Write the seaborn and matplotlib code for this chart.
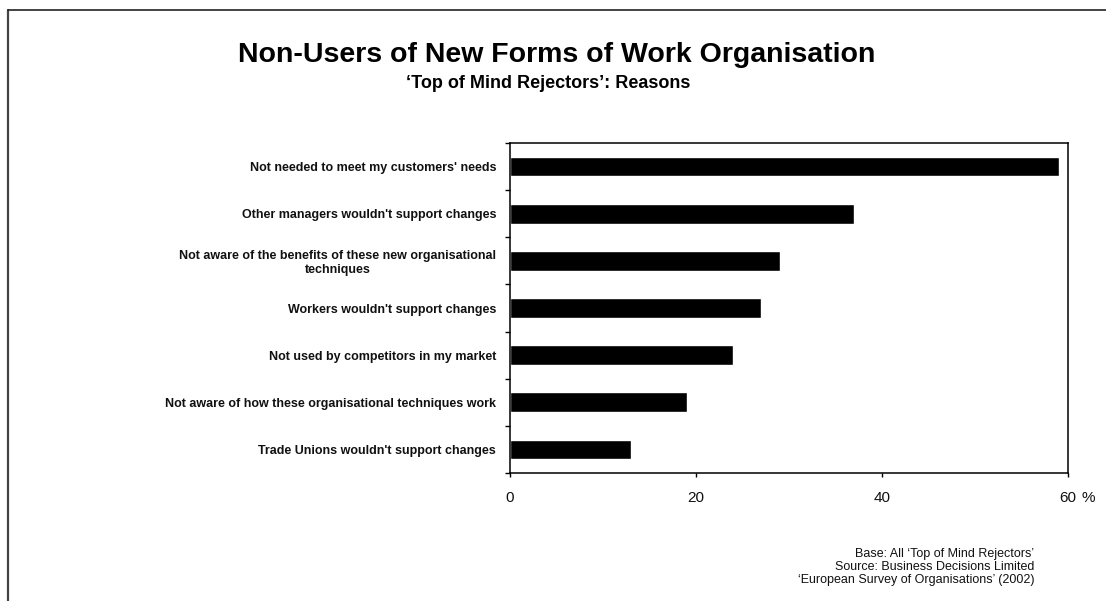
import matplotlib
matplotlib.use("Agg")
import matplotlib.pyplot as plt
from matplotlib.lines import Line2D
import seaborn as sns
import pandas as pd

# Reasons given by 'Top of Mind Rejectors' (% of respondents)
reasons = [
    "Not needed to meet my customers' needs",
    "Other managers wouldn't support changes",
    "Not aware of the benefits of these new organisational\ntechniques",
    "Workers wouldn't support changes",
    "Not used by competitors in my market",
    "Not aware of how these organisational techniques work",
    "Trade Unions wouldn't support changes",
]
shares = [59, 37, 29, 27, 24, 19, 13]
x_ticks = [0, 20, 40, 60]
x_tick_labels = ["0", "20", "40", "60"]

title = "Non-Users of New Forms of Work Organisation"
subtitle = "\u2018Top of Mind Rejectors\u2019: Reasons"
footer = ("Base: All \u2018Top of Mind Rejectors\u2019\n"
          "Source: Business Decisions Limited\n"
          "\u2018European Survey of Organisations\u2019 (2002)")

sns.set_theme(style="white")
plt.rcParams["font.family"] = ["Liberation Sans", "DejaVu Sans"]

df = pd.DataFrame({"reason": reasons, "share": shares})

W, H = 1106, 601
fig = plt.figure(figsize=(W / 100, H / 100), dpi=100)
fig.patch.set_facecolor("white")

# plot area in pixel coordinates
left, right, top, bottom = 510, 1068, 143, 473
ax = fig.add_axes([left / W, 1 - bottom / H, (right - left) / W, (bottom - top) / H])

sns.barplot(data=df, x="share", y="reason", orient="h", color="black",
            saturation=1, width=0.42, ax=ax)

ax.set_xlim(0, 60)
ax.set_ylim(len(reasons) - 0.5, -0.5)
ax.set_xlabel("")
ax.set_ylabel("")

# x axis ticks
ax.set_xticks(x_ticks)
ax.set_xticklabels(x_tick_labels, fontsize=11, color="#111111")
ax.tick_params(axis="x", direction="out", length=3, width=1, color="black",
               pad=10, bottom=True)
ax.annotate("%", xy=(60, 0), xycoords=("data", "axes fraction"),
            xytext=(10, -18), textcoords="offset points",
            ha="left", va="center", fontsize=11, color="#111111")

# y axis: tick marks between categories, labels at category centres
n = len(reasons)
ax.set_yticks([i - 0.5 for i in range(n + 1)])
ax.set_yticklabels([])
ax.set_yticks(list(range(n)), minor=True)
ax.set_yticklabels(reasons, minor=True, fontsize=9, fontweight="bold",
                   color="#111111", multialignment="center")
ax.tick_params(axis="y", which="major", direction="out", length=3.5, width=1,
               color="black", left=True)
ax.tick_params(axis="y", which="minor", length=0, pad=10, left=True)

for s in ax.spines.values():
    s.set_visible(True)
    s.set_color("black")
    s.set_linewidth(1.1)

# titles
fig.text(557 / W, 1 - 55 / H, title, ha="center", va="center",
         fontsize=20.5, fontweight="bold", color="black")
fig.text(548 / W, 1 - 84 / H, subtitle, ha="center", va="center",
         fontsize=13, fontweight="bold", color="black")

# source note
fig.text(1034 / W, 1 - 567 / H, footer, ha="right", va="center",
         fontsize=9, color="#111111", linespacing=1.15,
         multialignment="right")

# page frame (left and top edges)
fig.add_artist(Line2D([8 / W, 8 / W], [0, 1 - 10 / H], transform=fig.transFigure,
                      color="#444444", linewidth=1.6))
fig.add_artist(Line2D([8 / W, 1], [1 - 10 / H, 1 - 10 / H], transform=fig.transFigure,
                      color="#222222", linewidth=1.2))

fig.savefig("out.png", dpi=100, facecolor="white")
